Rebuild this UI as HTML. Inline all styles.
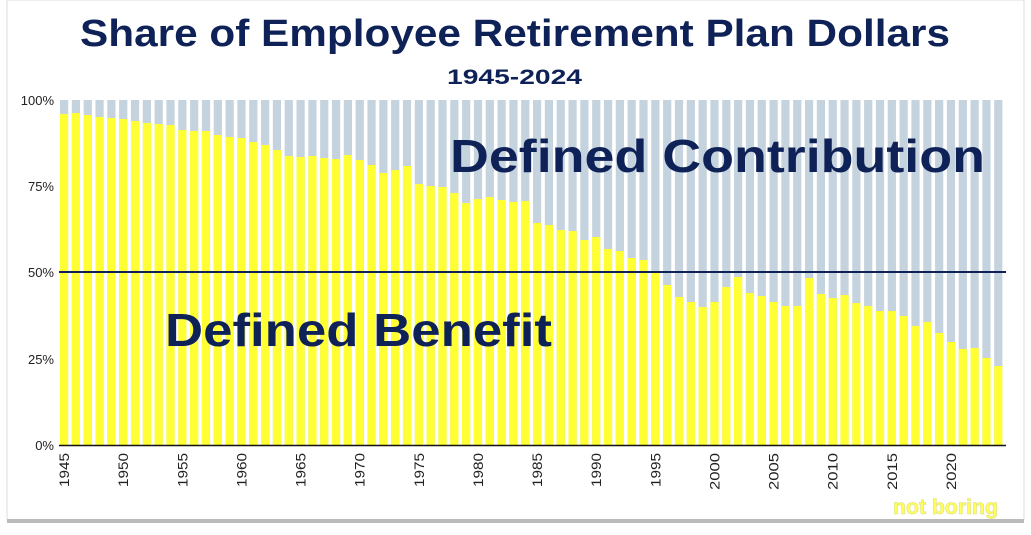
<!DOCTYPE html>
<html><head><style>
body{margin:0;background:#fff;width:1031px;height:530px;overflow:hidden;font-family:"Liberation Sans",sans-serif}
</style></head><body>
<svg width="1031" height="530" xmlns="http://www.w3.org/2000/svg">
<rect x="7" y="0" width="1017" height="520" fill="#fff" stroke="#ddd"/>
<rect x="7" y="519" width="1017" height="4" fill="#bbb"/>
<text x="80" y="46" font-size="38" font-weight="bold" fill="#0f2257" textLength="870" lengthAdjust="spacingAndGlyphs">Share of Employee Retirement Plan Dollars</text>
<text x="447" y="84" font-size="21" font-weight="bold" fill="#0f2257" textLength="135" lengthAdjust="spacingAndGlyphs">1945-2024</text>
<g font-size="13" fill="#222" text-anchor="end">
<text x="54" y="105">100%</text><text x="54" y="191">75%</text><text x="54" y="277">50%</text><text x="54" y="364">25%</text><text x="54" y="450">0%</text>
</g>
<g id="bars"></g>
<line x1="59" y1="272" x2="1006" y2="272" stroke="#0f2257" stroke-width="2"/>
<line x1="59" y1="445.5" x2="1006" y2="445.5" stroke="#111" stroke-width="1.5"/>
<g id="ticks" font-size="14" fill="#222"></g>
<text x="450" y="172" font-size="46" font-weight="bold" fill="#0f2257" textLength="535" lengthAdjust="spacingAndGlyphs">Defined Contribution</text>
<text x="165" y="346" font-size="46" font-weight="bold" fill="#0f2257" textLength="387" lengthAdjust="spacingAndGlyphs">Defined Benefit</text>
<text x="893" y="514" font-size="21" font-weight="bold" fill="#ffff55" stroke="#e6e68a" stroke-width="0.8" textLength="105" lengthAdjust="spacingAndGlyphs">not boring</text>
</svg>
<script>
var tops=[114,113,115,117,118,119,121,123,124,125,130,131,131,135,137,138,142,145,150,156,157,156,158,159,155,160,165,173,170,166,184,186,187,193,203,199,197,200,202,201,223,225,230,231,240,237,249,251,258,260,273,285,297,302,307,302,287,277,293,296,302,306,306,278,294,298,295,303,306,311,311,316,326,322,333,342,349,348,358,366];
var ns="http://www.w3.org/2000/svg",g=document.getElementById("bars"),t=document.getElementById("ticks");
var step=(1006-60)/80;
for(var i=0;i<80;i++){var x=60+i*step;
var r=document.createElementNS(ns,"rect");r.setAttribute("x",x);r.setAttribute("y",100);r.setAttribute("width",8.2);r.setAttribute("height",345);r.setAttribute("fill","#c5d3df");g.appendChild(r);
var y=document.createElementNS(ns,"rect");y.setAttribute("x",x);y.setAttribute("y",tops[i]);y.setAttribute("width",8.2);y.setAttribute("height",445-tops[i]);y.setAttribute("fill","#ffff33");g.appendChild(y);
if(i%5==0){var tx=document.createElementNS(ns,"text");var cx=x+9;tx.setAttribute("transform","translate("+cx+",453) rotate(-90)");tx.setAttribute("text-anchor","end");tx.setAttribute("textLength",i>=55?37:34);tx.setAttribute("lengthAdjust","spacingAndGlyphs");tx.textContent=1945+i;t.appendChild(tx);}
}
</script>
</body></html>
